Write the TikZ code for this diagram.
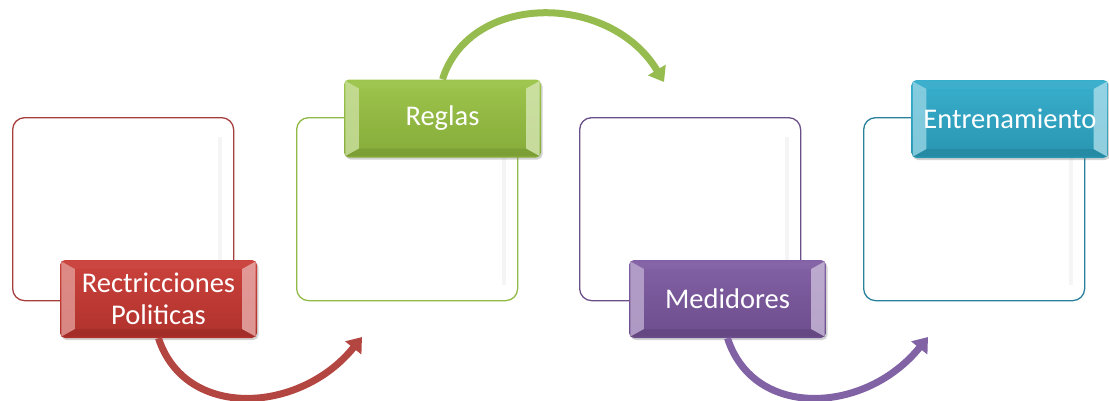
\documentclass[tikz,border=0pt]{standalone}
\usepackage{fontspec}
\setmainfont{Carlito}
\usetikzlibrary{arrows.meta,calc,shadows}

\definecolor{redfill}{RGB}{200,56,50}
\definecolor{redline}{RGB}{165,62,60}
\definecolor{greenfill}{RGB}{152,194,66}
\definecolor{greenline}{RGB}{145,185,70}
\definecolor{purplefill}{RGB}{124,88,160}
\definecolor{purpleline}{RGB}{105,78,135}
\definecolor{tealfill}{RGB}{46,170,202}
\definecolor{tealline}{RGB}{40,128,155}
\definecolor{redarrow}{RGB}{180,70,66}
\definecolor{greenarrow}{RGB}{150,188,80}
\definecolor{purplearrow}{RGB}{128,98,165}

\tikzset{
  frame/.style={draw, line width=1.3pt, rounded corners=12pt, fill=white,
    minimum width=221pt, minimum height=183pt, inner sep=0pt, anchor=north west},
  tagbox/.style={rounded corners=5pt, minimum width=197pt, minimum height=78pt,
    inner sep=0pt, drop shadow={opacity=0.35, shadow xshift=1.5pt, shadow yshift=-2pt}},
  tagtext/.style={text=white, font=\fontsize{28.5}{32}\selectfont, align=center, inner sep=0pt},
  bendarrow/.style={line width=7pt, -{Triangle[width=20pt,length=14pt]}},
}

% bevelled facets of a label box (y axis points down): #1 node name, #2 base colour
\newcommand{\labelbevel}[2]{%
  \fill[#2!50!white, opacity=0.8]
    ($(#1.north west)+(1.5,1.5)$) -- ($(#1.north west)+(15,9)$)
    -- ($(#1.south west)+(15,-9)$) -- ($(#1.south west)+(1.5,-1.5)$) -- cycle;
  \fill[#2!40!white, opacity=0.8]
    ($(#1.north east)+(-1.5,1.5)$) -- ($(#1.north east)+(-15,9)$)
    -- ($(#1.south east)+(-15,-9)$) -- ($(#1.south east)+(-1.5,-1.5)$) -- cycle;
  \fill[#2!90!white, opacity=0.5]
    ($(#1.north west)+(1.5,1.5)$) -- ($(#1.north east)+(-1.5,1.5)$)
    -- ($(#1.north east)+(-15,9)$) -- ($(#1.north west)+(15,9)$) -- cycle;
  \fill[#2!75!black, opacity=0.5]
    ($(#1.south west)+(1.5,-1.5)$) -- ($(#1.south east)+(-1.5,-1.5)$)
    -- ($(#1.south east)+(-15,-9)$) -- ($(#1.south west)+(15,-9)$) -- cycle;
}

% faint inner shade along the right side of a frame
\newcommand{\frameshade}[1]{%
  \draw[black!4, line width=4pt]
    ($(#1.north east)+(-14,20)$) -- ($(#1.south east)+(-14,-16)$);
}

\begin{document}
\begin{tikzpicture}[x=1pt,y=-1pt]
\useasboundingbox (0,0) rectangle (1109,400);

% outlined frames
\node[frame, draw=redline]    (f1) at (12,117)  {};
\node[frame, draw=greenline]  (f2) at (296,117) {};
\node[frame, draw=purpleline] (f3) at (579,117) {};
\node[frame, draw=tealline]   (f4) at (863,117) {};
\frameshade{f1}\frameshade{f2}\frameshade{f3}\frameshade{f4}

% label boxes
\node[tagbox, top color=redfill!95!white, bottom color=redfill!88!black]
  (l1) at (158.5,299) {};
\node[tagbox, top color=greenfill!95!white, bottom color=greenfill!88!black]
  (l2) at (442.5,118.5) {};
\node[tagbox, top color=purplefill!95!white, bottom color=purplefill!88!black]
  (l3) at (727.5,299) {};
\node[tagbox, top color=tealfill!95!white, bottom color=tealfill!88!black]
  (l4) at (1010,119) {};
\labelbevel{l1}{redfill}
\labelbevel{l2}{greenfill}
\labelbevel{l3}{purplefill}
\labelbevel{l4}{tealfill}

% label texts
\node[tagtext] (t1) at (l1) {Rectricciones\\Politicas};
\node[tagtext] (t2) at (l2) {Reglas};
\node[tagtext] (t3) at (l3) {Medidores};
\node[tagtext] (t4) at (l4) {Entrenamiento};

% curved arrows between the steps
\coordinate (e1) at (362,337);
\coordinate (e2) at (664,82);
\coordinate (e3) at (928,337);
\draw[bendarrow, redarrow] (l1.south) .. controls (185,420) and (300,414) .. (e1);
\draw[bendarrow, greenarrow] (l2.north) .. controls (470,-8) and (610,-8) .. (e2);
\draw[bendarrow, purplearrow] (l3.south) .. controls (754,420) and (866,414) .. (e3);
\end{tikzpicture}
\end{document}
